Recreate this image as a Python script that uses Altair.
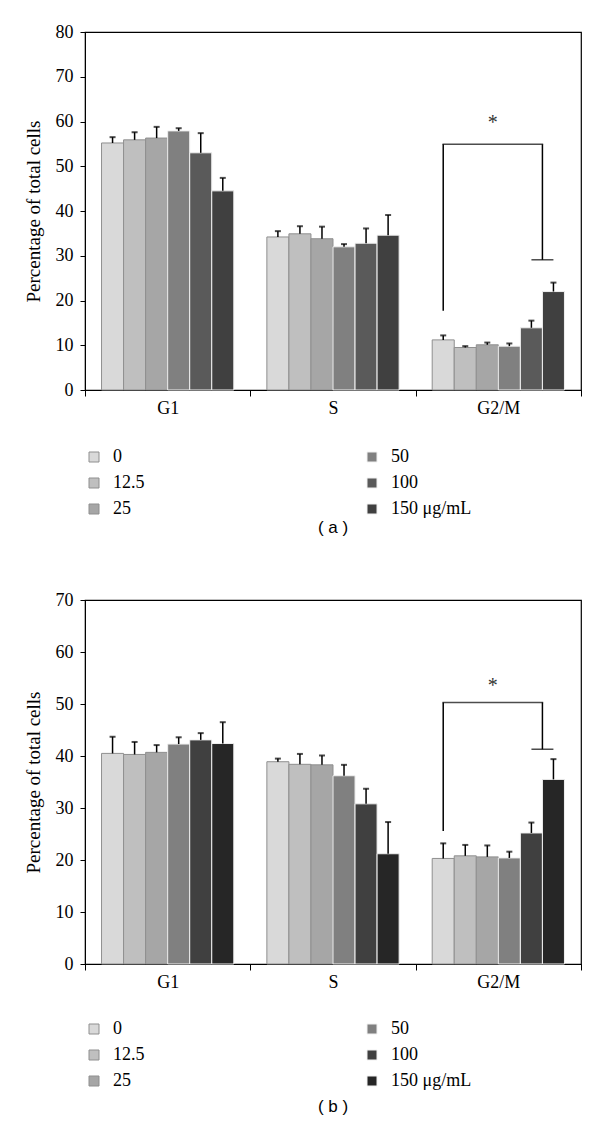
import altair as alt
import pandas as pd

phases = ["G1", "S", "G2/M"]
doses = ["0", "12.5", "25", "50", "100", "150"]

# Panel (a)
a_g1 = [55.2, 55.9, 56.3, 57.9, 53.0, 44.5]
a_g1_err = [1.3, 1.7, 2.5, 0.6, 4.4, 2.9]
a_s = [34.2, 34.9, 33.8, 32.0, 32.8, 34.6]
a_s_err = [1.3, 1.7, 2.7, 0.6, 3.3, 4.5]
a_g2 = [11.2, 9.5, 10.1, 9.8, 13.9, 22.0]
a_g2_err = [1.0, 0.3, 0.5, 0.6, 1.6, 2.0]
a_colors = {"0": "#d9d9d9", "12.5": "#bfbfbf", "25": "#a6a6a6",
            "50": "#808080", "100": "#5a5a5a", "150": "#404040"}
a_bracket = [17.7, 54.9, 29.1]
a_star = 60.5

# Panel (b)
b_g1 = [40.5, 40.3, 40.7, 42.3, 43.1, 42.4]
b_g1_err = [3.2, 2.4, 1.4, 1.3, 1.3, 4.1]
b_s = [38.9, 38.4, 38.3, 36.2, 30.8, 21.2]
b_s_err = [0.6, 2.0, 1.8, 2.1, 2.9, 6.1]
b_g2 = [20.3, 20.8, 20.6, 20.4, 25.2, 35.5]
b_g2_err = [2.9, 2.1, 2.2, 1.2, 2.0, 3.9]
b_colors = {"0": "#d9d9d9", "12.5": "#bfbfbf", "25": "#a6a6a6",
            "50": "#808080", "100": "#404040", "150": "#262626"}
b_bracket = [25.6, 50.3, 41.3]
b_star = 54.3

bar_strokes = {"0": "#8f8f8f", "12.5": "#8f8f8f", "25": "#8f8f8f",
               "50": "#f0f0f0", "100": "#f0f0f0", "150": "#f0f0f0"}

SERIF = "Liberation Serif"
FS = 18
W = 496
OUTER = 0.75  # outer padding of the dose sub-bands, in sub-band steps
NSUB = len(doses) + 2 * OUTER
BAND_W = W / len(phases)
# band positions (fraction of the G2/M band) of the bracket ends
POS_L = (OUTER + 0.5) / NSUB       # centre of the first (0) bar
POS_R = (OUTER + 5.0) / NSUB       # left edge of the last (150) bar
POS_M = (POS_L + POS_R) / 2


def panel(g1, g1e, s, se, g2, g2e, colors, ymax, h, brk, star, tag, toff,
          ly):
    rows = []
    for ph, vals, errs in zip(phases, [g1, s, g2], [g1e, se, g2e]):
        for d, v, e in zip(doses, vals, errs):
            rows.append({"phase": ph, "dose": d, "value": v, "upper": v + e})
    df = pd.DataFrame(rows)

    axis_x = alt.Axis(title=None, tickBand="extent", labelAngle=0,
                      labelFont=SERIF, labelFontSize=FS, labelColor="black",
                      domainColor="black", tickColor="black", tickSize=6,
                      labelPadding=3)
    xscale = alt.Scale(paddingInner=0, paddingOuter=0)
    x = alt.X("phase:N", sort=phases, scale=xscale, axis=axis_x)
    xl = alt.X("phase:N", sort=phases, scale=xscale, axis=axis_x,
               bandPosition=POS_L)
    xm = alt.X("phase:N", sort=phases, scale=xscale, axis=axis_x,
               bandPosition=POS_M)
    xr = alt.X("phase:N", sort=phases, scale=xscale, axis=axis_x,
               bandPosition=POS_R)
    xo = alt.XOffset("dose:N", sort=doses,
                     scale=alt.Scale(paddingInner=0, paddingOuter=OUTER))
    y = alt.Y("value:Q",
              scale=alt.Scale(domain=[0, ymax], nice=False),
              axis=alt.Axis(title="Percentage of total cells",
                            values=list(range(0, ymax + 1, 10)),
                            grid=False, labelFont=SERIF, labelFontSize=FS,
                            labelColor="black", titleFont=SERIF,
                            titleFontSize=19, titleFontWeight="normal",
                            titleColor="black", domainColor="black",
                            tickColor="black", tickSize=5, labelPadding=7,
                            titlePadding=12))

    color = alt.Color("dose:N",
                      scale=alt.Scale(domain=doses,
                                      range=[colors[d] for d in doses]),
                      legend=alt.Legend(title=None, orient="none", legendX=0,
                                        legendY=h + ly, direction="vertical",
                                        columns=2, columnPadding=218,
                                        rowPadding=8, symbolType="square",
                                        symbolSize=100,
                                        symbolStrokeColor="#8f8f8f",
                                        symbolStrokeWidth=1,
                                        labelFont=SERIF, labelFontSize=FS,
                                        labelColor="black", labelOffset=10,
                                        labelExpr="datum.label == '150' ? '150 \u03bcg/mL' : datum.label"))
    stroke = alt.Stroke("dose:N",
                        scale=alt.Scale(domain=doses,
                                        range=[bar_strokes[d] for d in doses]),
                        legend=None)

    bars = alt.Chart(df).mark_bar(strokeWidth=1).encode(
        x=x, xOffset=xo, y=y, color=color, stroke=stroke)

    err = alt.Chart(df).mark_rule(color="black", strokeWidth=1.5).encode(
        x=x, xOffset=xo, y="value:Q", y2="upper:Q")
    cap = alt.Chart(df).mark_tick(color="black", size=6, thickness=2).encode(
        x=x, xOffset=xo, y="upper:Q")

    bdf = pd.DataFrame({"phase": ["G2/M"], "low": [brk[0]], "top": [brk[1]],
                        "rlow": [brk[2]]})
    leg_l = alt.Chart(bdf).mark_rule(color="black", strokeWidth=1.5).encode(
        x=xl, y="low:Q", y2="top:Q")
    leg_r = alt.Chart(bdf).mark_rule(color="black", strokeWidth=1.5).encode(
        x=xr, y="rlow:Q", y2="top:Q")
    top = alt.Chart(bdf).mark_tick(color="black", thickness=1.5,
                                   size=(POS_R - POS_L) * BAND_W + 1.5,
                                   xOffset=(POS_M - 0.5) * BAND_W).encode(
        x=x, y="top:Q")
    bcap = alt.Chart(bdf).mark_tick(color="black", size=22, thickness=1.5,
                                    xOffset=(POS_R - 0.5) * BAND_W).encode(
        x=x, y="rlow:Q")

    sdf = pd.DataFrame({"phase": ["G2/M"], "value": [star], "t": ["*"]})
    startext = alt.Chart(sdf).mark_text(font=SERIF, fontSize=20, dy=4,
                                        color="#333").encode(
        x=xm, y="value:Q", text="t:N")

    return alt.layer(bars, err, cap, leg_l, leg_r, top, bcap,
                     startext).properties(
        width=W, height=h,
        title=alt.TitleParams(tag, orient="bottom", anchor="middle",
                              font="Liberation Sans", fontSize=17,
                              fontWeight="normal", color="black",
                              offset=toff))


pa = panel(a_g1, a_g1_err, a_s, a_s_err, a_g2, a_g2_err, a_colors, 80, 358,
           a_bracket, a_star, "( a )", 2, 58)
pb = panel(b_g1, b_g1_err, b_s, b_s_err, b_g2, b_g2_err, b_colors, 70, 364,
           b_bracket, b_star, "( b )", 9, 56)

chart = alt.vconcat(pa, pb, spacing=53).resolve_scale(
    color="independent", stroke="independent", x="independent",
    y="independent", xOffset="independent"
).resolve_legend(color="independent").configure_view(
    stroke="black", strokeWidth=1.2
).properties(padding={"left": 15, "top": 14, "right": 5, "bottom": 5})

chart.save("out.html", embed_options={"renderer": "svg", "actions": False})
